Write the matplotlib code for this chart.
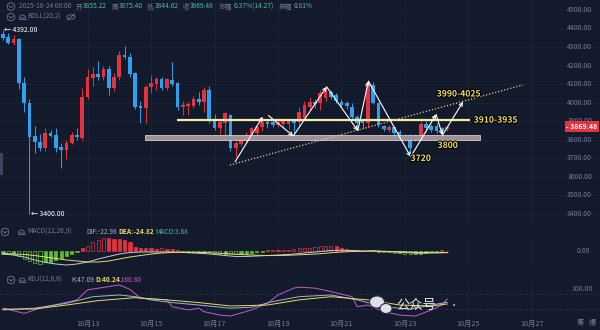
import numpy as np
import pandas as pd
import matplotlib
matplotlib.use("Agg")
import matplotlib.pyplot as plt
from matplotlib import patches, patheffects
from matplotlib.transforms import IdentityTransform, blended_transform_factory

plt.rcParams['font.family'] = ['Noto Sans CJK SC', 'DejaVu Sans']

# ETH 4h candles, 2025-10-10 08:00 .. 2025-10-24 08:00
start = "2025-10-10 08:00"
opens = [4370, 4354, 4320, 4345, 4104, 3997, 3819, 3788, 3752, 3837,
         3824, 3761, 3743, 3781, 3824, 3806, 4031, 4131, 4154, 4136,
         4179, 4077, 4136, 4257, 4244, 4158, 3981, 3970, 4085, 4100,
         4125, 4077, 4122, 4104, 3977, 3981, 3981, 4017, 4004, 4068,
         3902, 3860, 3888, 3932, 3752, 3776, 3794, 3824, 3833, 3869,
         3896, 3894, 3880, 3882, 3885, 3898, 3896, 3914, 3977, 4004,
         3996, 4023, 4058, 4040, 4004, 3995, 3977, 3923, 3900, 3888,
         4095, 3996, 3873, 3851, 3869, 3842, 3801, 3815, 3797, 3815,
         3882, 3873, 3873, 3860, 3855.22]
highs = [4392, 4376, 4365, 4350, 4138, 4020, 3873, 3830, 3860, 3850,
         3860, 3780, 3800, 3840, 3860, 4078, 4181, 4190, 4226, 4200,
         4200, 4160, 4277, 4304, 4265, 4165, 4010, 4095, 4150, 4140,
         4140, 4130, 4221, 4110, 4010, 4005, 4035, 4055, 4085, 4090,
         3940, 3910, 3950, 3940, 3790, 3815, 3840, 3870, 3880, 3920,
         3905, 3910, 3915, 3915, 3912, 3905, 3975, 4010, 4030, 4020,
         4065, 4086, 4070, 4050, 4020, 4010, 3995, 3935, 3910, 4118,
         4110, 4005, 3880, 3880, 3875, 3850, 3830, 3830, 3830, 3900,
         3900, 3885, 3890, 3870, 3875.40]
lows = [4340, 4315, 4310, 4073, 3950, 3400, 3727, 3740, 3740, 3812,
        3735, 3646, 3695, 3775, 3800, 3800, 4020, 4090, 4120, 4120,
        4040, 4060, 4120, 4235, 4140, 3965, 3888, 3888, 4050, 4070,
        4070, 4070, 4090, 3960, 3930, 3930, 3970, 3985, 3950, 3890,
        3850, 3830, 3820, 3740, 3707, 3765, 3780, 3810, 3825, 3845,
        3860, 3870, 3870, 3860, 3855, 3819, 3870, 3900, 3960, 3970,
        3960, 4010, 4020, 3995, 3975, 3965, 3905, 3850, 3860, 3870,
        3990, 3870, 3845, 3840, 3800, 3800, 3790, 3716, 3790, 3800,
        3840, 3840, 3835, 3835, 3844.02]
closes = [4350, 4322, 4345, 4104, 3997, 3814, 3788, 3752, 3837, 3819,
          3756, 3743, 3783, 3824, 3815, 4031, 4139, 4154, 4136, 4179,
          4077, 4139, 4257, 4244, 4154, 3977, 3970, 4085, 4107, 4125,
          4077, 4125, 4100, 3977, 3986, 3992, 4017, 4004, 4068, 3905,
          3860, 3896, 3942, 3752, 3780, 3797, 3824, 3860, 3869, 3896,
          3884, 3880, 3895, 3898, 3900, 3888, 3950, 3986, 4004, 3990,
          4050, 4064, 4031, 4010, 3986, 3980, 3923, 3888, 3890, 4095,
          3996, 3880, 3858, 3869, 3833, 3819, 3819, 3752, 3824, 3882,
          3860, 3851, 3847, 3845, 3869.48]

# MACD(12,26,9)
macd_hist = [-38, -45, -45, -75, -120, -150, -180, -195, -172, -165,
             -135, -112, -75, -52, -15, 45, 75, 135, 165, 195,
             195, 180, 180, 165, 135, 60, 45, 45, 38, 30,
             38, 30, 30, 15, -15, -15, -22, -22, -15, -22,
             -30, -38, -38, -45, -52, -45, -38, -30, -22, -8,
             10, 15, 15, 18, 22, 30, 38, 45, 52, 60,
             68, 75, 82, 68, 52, 30, 15, 8, -4, 4,
             8, -8, -15, -22, -30, -30, -38, -45, -45, -38,
             -30, -22, -15, 8, 3.68]
macd_x = list(range(0, 85, 2))
dif = [-45, -60, -90, -135, -172, -195, -210, -195, -165, -120,
       -82, -45, -22, -15, -15, -15, -15, -22, -30, -38,
       -52, -68, -82, -82, -75, -68, -60, -52, -38, -22,
       -8, 8, 12, 8, 0, 4, -8, -15, -22, -30,
       -30, -27, -22.98]
dea = [-38, -45, -52, -68, -90, -112, -135, -150, -165, -165,
       -150, -120, -90, -68, -45, -30, -22, -18, -20, -22,
       -30, -38, -48, -57, -63, -68, -68, -64, -57, -50,
       -40, -27, -15, -8, -4, -3, -4, -8, -14, -20,
       -24, -26, -24.82]

# KDJ(12,6,6)
k_x = [0, 6, 12, 17, 22, 25, 28, 32, 37, 43, 47, 51, 56, 62, 67, 72, 77, 81, 84]
k_val = [16, 23, 43, 70, 77, 70, 57, 46, 36, 23, 27, 50, 70, 77, 57, 29, 19, 36, 47.09]
d_x = [0, 6, 12, 18, 25, 31, 37, 43, 50, 56, 62, 69, 75, 81, 84]
d_val = [19, 20, 36, 54, 66, 57, 46, 32, 36, 57, 70, 57, 36, 32, 40.24]
j_x = [0, 4, 7, 14, 16, 19, 22, 24, 26, 31, 32, 35, 37, 38, 41, 43, 47, 50,
       52, 55, 56, 59, 62, 66, 67, 69, 72, 75, 78, 81, 83, 84]
j_val = [23, 2, 23, 57, 98, 108, 118, 100, 64, 57, 29, 16, 23, 9, -5, -9, 16, 43,
         77, 105, 109, 105, 91, 70, 29, 36, 9, -5, -9, 16, 36, 60.8]

price_ticks = [3400, 3500, 3600, 3700, 3800, 3900, 4000, 4100, 4200, 4300, 4400, 4500]
date_ticks = ["2025-10-13", "2025-10-15", "2025-10-17", "2025-10-19",
              "2025-10-21", "2025-10-23", "2025-10-25", "2025-10-27"]

# drawn analysis (candle index, price)
resist_lvl, resist_span = 3908, (32.9, 88.3)
support_lo, support_hi, support_span = 3797, 3822, (26.8, 90.2)
trend_x, trend_y = [42.9, 98.3], [3662, 4095]
zigzag = [((43.9, 3680), (49.1, 3923)), ((50.2, 3930), (54.9, 3819)),
          ((54.9, 3819), (61.2, 4085)), ((61.2, 4085), (67.1, 3848)),
          ((67.1, 3848), (69.1, 4116)), ((69.1, 4116), (77.1, 3707)),
          ((77.1, 3707), (81.9, 3936)), ((81.9, 3936), (83.1, 3824)),
          ((83.1, 3824), (87.0, 4004))]
notes = [("3990-4025", 86.2, 4046), ("3910-3935", 93.2, 3905),
         ("3800", 84.1, 3768), ("3720", 79.0, 3698)]

BG = '#131a2b'
GRID = '#1c2338'
GRAY = '#737c95'
TEAL = '#45bf9f'
YEL = '#e8da6a'
RED = '#e5323f'
BLUE = '#2fa0ee'
GREEN = '#5cbf2e'
MAG = '#c35bd0'
W, H = 600, 330

fig = plt.figure(figsize=(6, 3.3), dpi=100, facecolor=BG)

def panel(top, bottom):
    a = fig.add_axes([0, 1 - bottom / H, 1, (bottom - top) / H])
    a.set_facecolor(BG)
    for s in a.spines.values():
        s.set_visible(False)
    a.set_xlim(-0.57, 112.9)
    a.set_yticks([])
    a.tick_params(length=0)
    a.set_xticks([])
    return a

ax = panel(0, 228)
axm = panel(236, 266)
axk = panel(282, 318)
ax.set_ylim(3322, 4554)
axm.set_ylim(-225, 225)
axk.set_ylim(-17, 130)

t0 = pd.Timestamp(start)
tick_pos = [(pd.Timestamp(d) - t0) / pd.Timedelta("4h") for d in date_ticks]
tick_lab = [f"{pd.Timestamp(d).month}月{pd.Timestamp(d).day}" for d in date_ticks]
for a in (ax, axm, axk):
    for p in tick_pos:
        a.axvline(p, color=GRID, lw=0.6, zorder=0)
axk.set_xticks(tick_pos, tick_lab)
axk.tick_params(axis='x', length=0, pad=1.5, labelsize=5.2, labelcolor=GRAY)

# right side price labels
tr = blended_transform_factory(ax.transAxes, ax.transData)
for p in price_ticks:
    ax.axhline(p, color=GRID, lw=0.6, zorder=0)
    ax.text(0.987, p, f"{p:.2f}", transform=tr, ha='right', va='center',
            fontsize=5, color=GRAY)

# candles
x = np.arange(len(closes))
o = np.array(opens); c = np.array(closes)
cols = [RED if cc >= oo else BLUE for oo, cc in zip(o, c)]
ax.vlines(x, lows, highs, colors=cols, lw=0.7, zorder=3)
body = np.maximum(np.abs(c - o), 5)
ax.bar(x, body, bottom=np.minimum(o, c), width=0.7, color=cols, zorder=4)

# high / low markers
ih, il = int(np.argmax(highs)), int(np.argmin(lows))
ax.annotate(f"← {highs[ih]:.2f}", (ih, highs[ih]), xytext=(1, 0), textcoords='offset points',
            ha='left', va='center', fontsize=5, color='white', zorder=6)
ax.annotate(f"← {lows[il]:.2f}", (il, lows[il]), xytext=(1, 0), textcoords='offset points',
            ha='left', va='center', fontsize=5, color='white', zorder=6)

# last price tag
ax.text(0.996, closes[-1], f"- {closes[-1]:.2f}", transform=tr, ha='right', va='center',
        fontsize=5, color='white', fontweight='bold', zorder=8,
        bbox=dict(fc=RED, ec='none', pad=1.3))

# analysis drawings
ax.add_patch(patches.Rectangle((support_span[0], support_lo), support_span[1] - support_span[0],
                               support_hi - support_lo, fc='#a08f93', ec='#e6e6e6', lw=0.5, zorder=5))
ax.hlines(resist_lvl, *resist_span, color='#f4eea4', lw=1.6, zorder=5)
ax.plot(trend_x, trend_y, ls=(0, (1, 1.5)), color='#d9d08e', lw=0.9, zorder=5)
for s, e in zigzag:
    ax.annotate('', xy=e, xytext=s, zorder=7,
                arrowprops=dict(arrowstyle='->', color='white', lw=0.8,
                                shrinkA=0, shrinkB=0, mutation_scale=6))
for txt, xx, yy in notes:
    ax.text(xx, yy, txt, ha='center', va='center', fontsize=6.2, fontweight='bold',
            color='#f1df5c', zorder=9,
            path_effects=[patheffects.withStroke(linewidth=1.6, foreground='black')])

# MACD panel
h = np.array(macd_hist)
prev = np.concatenate([[0], h[:-1]])
for i, v in enumerate(h):
    col = RED if v >= 0 else GREEN
    hollow = abs(v) > abs(prev[i]) and np.sign(v) == np.sign(prev[i])
    axm.bar(i, v, width=0.6, color=BG if hollow else col, edgecolor=col, lw=0.5, zorder=3)
axm.plot(macd_x, dif, color='#c3c9df', lw=0.7, zorder=4)
axm.plot(macd_x, dea, color=YEL, lw=0.7, zorder=4)
trm = blended_transform_factory(axm.transAxes, axm.transData)
axm.text(0.983, 0, "0.00", transform=trm, ha='right', va='center', fontsize=5, color=GRAY)

# KDJ panel
for lv in (80, 20):
    axk.axhline(lv, color='#2e3650', lw=0.6, ls=(0, (3, 3)), zorder=1)
axk.plot(j_x, j_val, color=MAG, lw=0.7, zorder=3)
axk.plot(k_x, k_val, color='#a7b0d2', lw=0.7, zorder=4)
axk.plot(d_x, d_val, color=YEL, lw=0.7, zorder=4)
trk = blended_transform_factory(axk.transAxes, axk.transData)
axk.text(0.987, 100, "100.00", transform=trk, ha='right', va='center', fontsize=5, color=GRAY)

# header texts
def ftext(xp, yp, s, color=GRAY, size=4.8, **kw):
    fig.text(xp / W, 1 - yp / H, s, color=color, fontsize=size, ha='left', va='center', **kw)

def chevron(xp, yp):
    fig.add_artist(patches.Circle((xp, H - yp), 3.8, transform=IdentityTransform(),
                                  fc='none', ec='#6d7690', lw=0.6))
    fig.add_artist(plt.Line2D([xp - 2, xp, xp + 2], [H - yp + 0.8, H - yp - 1.2, H - yp + 0.8],
                              transform=IdentityTransform(), color='#6d7690', lw=0.6))

def bell(xp, yp):
    fig.add_artist(patches.Wedge((xp, H - yp - 1), 3, 0, 180, transform=IdentityTransform(),
                                 fc='none', ec='#6d7690', lw=0.6))
    fig.add_artist(plt.Line2D([xp - 3.5, xp + 3.5], [H - yp - 1.5, H - yp - 1.5],
                              transform=IdentityTransform(), color='#6d7690', lw=0.6))

chevron(11, 6.5)
ftext(19, 6.5, "2025-10-24 08:00")
row1 = [(76, "开", GRAY), (83, "3855.22", TEAL), (112, "高", GRAY), (119, "3875.40", TEAL),
        (147, "低", GRAY), (155, "3844.02", TEAL), (183, "收", GRAY), (190, "3869.48", TEAL),
        (219, "涨幅", GRAY), (234, "0.37%(14.27)", TEAL), (279, "振幅", GRAY), (294, "0.81%", TEAL)]
for xp, s, col in row1:
    ftext(xp, 6.5, s, col)
chevron(11, 17)
bell(22.5, 17)
ftext(27, 17, "BOLL(20,2)")
fig.add_artist(patches.Ellipse((71, H - 17), 8, 4.5, transform=IdentityTransform(),
                               fc='none', ec='#6d7690', lw=0.6))
fig.add_artist(plt.Line2D([67.5, 74.5], [H - 20, H - 14], transform=IdentityTransform(),
                          color='#6d7690', lw=0.6))

chevron(5, 232)
bell(21.5, 232)
ftext(27, 232, "MACD(12,26,9)")
ftext(86, 232, "DIF:-22.98", '#aab1c6')
ftext(118, 232, "DEA:-24.82", YEL, fontweight='bold')
ftext(155, 232, "MACD:3.68", TEAL)

chevron(11, 280)
bell(22, 280)
ftext(27, 280, "KDJ(12,6,6)")
ftext(71, 280, "K:47.09", '#aab1c6')
ftext(95, 280, "D:40.24", YEL, fontweight='bold')
ftext(120, 280, "J:60.80", MAG)

# bottom-right buttons and left tab
ftext(577, 323, "筹", size=5.2)
ftext(589, 323, "爆", size=5.2)
fig.add_artist(patches.Rectangle((0, H - 175), 3, 22, transform=IdentityTransform(),
                                 fc='#3d4660', ec='none'))

# watermark
for cx, cy, w_, h_ in [(377, 302, 15, 12), (386, 308.5, 12, 10)]:
    fig.add_artist(patches.Ellipse((cx, H - cy), w_, h_, transform=IdentityTransform(),
                                   fc='#dde1ea', ec='#2a3044', lw=0.8, zorder=20))
ftext(396, 305, "公众号", '#e6e8ee', size=9.5, zorder=20)
ftext(450, 305, "·", '#e6e8ee', size=6, zorder=20)

fig.savefig("out.png", dpi=100, facecolor=BG)
